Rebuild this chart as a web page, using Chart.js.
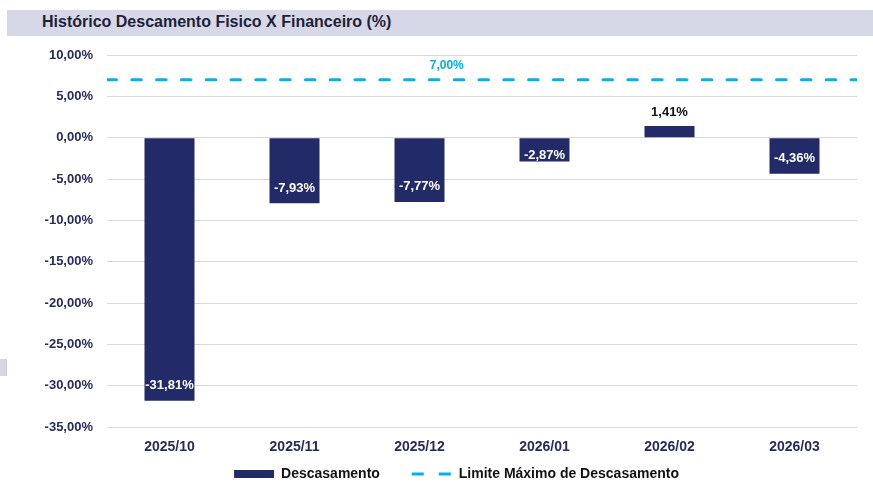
<!DOCTYPE html>
<html>
<head>
<meta charset="utf-8">
<script src="https://cdn.jsdelivr.net/npm/chart.js@4.4.1/dist/chart.umd.min.js"></script>
<style>
  html, body { margin: 0; padding: 0; background: #ffffff; }
  body { width: 873px; height: 489px; position: relative; overflow: hidden; font-family: "Liberation Sans", Arial, sans-serif; }
  #band { position: absolute; left: 7px; top: 10px; width: 866px; height: 26px; background: #d6d8e8; }
  #title { position: absolute; left: 42px; top: 13px; font: bold 16px "Liberation Sans", Arial, sans-serif; color: #1e1f38; white-space: nowrap; }
  #side { position: absolute; left: 0; top: 359px; width: 6px; height: 17px; background: #d6d8e8; border-right: 1px solid #c8cad9; }
  #wrap { position: absolute; left: 0; top: 0; width: 873px; height: 489px; }
</style>
</head>
<body>
<div id="band"></div>
<div id="title">Histórico Descamento Fisico X Financeiro (%)</div>
<div id="side"></div>
<div id="wrap"><canvas id="c" width="873" height="489"></canvas></div>
<script>
// ---- data ----
const categories = ['2025/10', '2025/11', '2025/12', '2026/01', '2026/02', '2026/03'];
const descasamento = [-31.81, -7.93, -7.77, -2.87, 1.41, -4.36];
const limiteMaximo = 7.00;
const yMin = -35;
const yMax = 10;
const yStep = 5;
const seriesNames = ['Descasamento', 'Limite Máximo de Descasamento'];

const NAVY = '#222a68';
const CYAN = '#00b0f0';
const TICK = '#262b5e';

function fmt(v) { return v.toFixed(2).replace('.', ',') + '%'; }

const labelPlugin = {
  id: 'valueLabels',
  afterLayout(chart) {
    // shift legend row to the right, as in the reference
    if (chart.legend) { chart.legend.left += 28; chart.legend.right += 28; }
  },
  afterDatasetsDraw(chart) {
    const ctx = chart.ctx;
    const meta = chart.getDatasetMeta(0);
    ctx.save();
    ctx.font = 'bold 13px "Liberation Sans", Arial, sans-serif';
    ctx.textAlign = 'center';
    ctx.textBaseline = 'middle';
    meta.data.forEach((el, i) => {
      const v = descasamento[i];
      let y;
      if (v < 0) {
        const len = el.y - el.base;
        y = el.y - (len < 30 ? 6 : 15);
        ctx.fillStyle = '#ffffff';
      } else {
        y = el.y - 14;
        ctx.fillStyle = '#111111';
      }
      ctx.fillText(fmt(v), el.x, y);
    });
    const ys = chart.scales.y;
    const ca = chart.chartArea;
    ctx.font = 'bold 12px "Liberation Sans", Arial, sans-serif';
    ctx.fillStyle = CYAN;
    ctx.fillText(fmt(limiteMaximo), ca.left + (ca.right - ca.left) * 0.453, ys.getPixelForValue(limiteMaximo) - 14.5);
    ctx.restore();
  }
};

new Chart(document.getElementById('c'), {
  data: {
    labels: categories,
    datasets: [
      {
        type: 'bar',
        label: seriesNames[0],
        data: descasamento,
        backgroundColor: NAVY,
        borderWidth: 0,
        grouped: false,
        barPercentage: 0.4,
        categoryPercentage: 1.0,
        xAxisID: 'x',
        order: 2
      },
      {
        type: 'line',
        label: seriesNames[1],
        data: [{ x: 0, y: limiteMaximo }, { x: 1, y: limiteMaximo }],
        borderColor: CYAN,
        backgroundColor: CYAN,
        borderWidth: 3,
        borderDash: [9.5, 15.3],
        borderCapStyle: 'round',
        pointRadius: 0,
        fill: false,
        xAxisID: 'x2',
        order: 1
      }
    ]
  },
  options: {
    responsive: false,
    animation: false,
    devicePixelRatio: 1,
    layout: { padding: { top: 55, right: 16, left: 0, bottom: -2 } },
    scales: {
      x: {
        type: 'category',
        offset: true,
        grid: { display: false, drawTicks: false },
        border: { display: false },
        ticks: {
          padding: 13,
          color: TICK,
          font: { family: '"Liberation Sans", Arial, sans-serif', size: 14, weight: 'bold', lineHeight: 1 }
        }
      },
      x2: {
        type: 'linear',
        min: 0,
        max: 1,
        display: false
      },
      y: {
        min: yMin,
        max: yMax,
        afterFit(scale) { scale.width = 107; },
        grid: { color: '#d9d9d9', lineWidth: 1, drawTicks: false },
        border: { display: false },
        ticks: {
          stepSize: yStep,
          padding: 14,
          color: TICK,
          font: { family: '"Liberation Sans", Arial, sans-serif', size: 13, weight: 'bold' },
          callback: (v) => fmt(v)
        }
      }
    },
    plugins: {
      tooltip: { enabled: false },
      legend: {
        position: 'bottom',
        labels: {
          usePointStyle: true,
          pointStyleWidth: 40,
          boxWidth: 40,
          boxHeight: 8,
          padding: 0,
          color: '#111111',
          font: { family: '"Liberation Sans", Arial, sans-serif', size: 14, weight: 'bold' },
          generateLabels(chart) {
            return [
              { text: seriesNames[0] + '\u2003\u2003 ', fillStyle: NAVY, strokeStyle: NAVY, lineWidth: 0, pointStyle: 'rect', datasetIndex: 0, fontColor: '#111111' },
              { text: seriesNames[1], fillStyle: CYAN, strokeStyle: CYAN, lineWidth: 3, lineDash: [12, 15], lineCap: 'butt', pointStyle: 'line', datasetIndex: 1, fontColor: '#111111' }
            ];
          }
        }
      }
    }
  },
  plugins: [labelPlugin]
});
</script>
</body>
</html>
